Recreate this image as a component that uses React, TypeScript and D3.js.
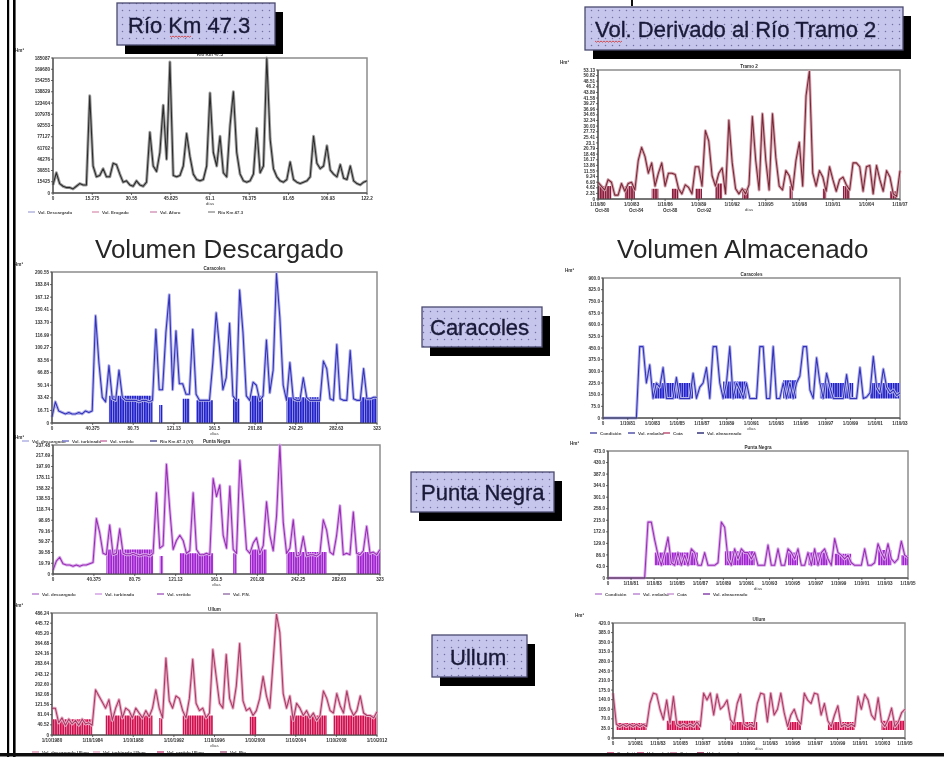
import React from 'react';
import * as d3 from 'd3';

const W = 944;
const H = 757;
const FONT = "'Liberation Sans', Arial, Helvetica, sans-serif";

// ---------------- DATA ----------------
// Río Km 47.3 (caudal)
const rioMain = [6,15,7,5,4,4,3,5,7,6, 6,72,20,12,13,18,12,12,22,21, 14,8,9,6,5,9,6,5,8,45, 20,16,30,65,25,97,13,12,13,20, 44,27,14,10,9,10,20,74,30,20, 42,15,12,50,75,30,14,9,8,9, 14,48,15,20,100,40,18,12,9,8, 10,23,10,8,7,8,9,12,42,22, 18,20,35,17,14,12,21,11,10,20, 9,7,6,8,9];
const rioYTicks = ['0','15425','30851','46276','61702','77127','92553','107978','123404','138829','154255','169680','185087'];
const rioXTicks = ['0','15.275','30.55','45.825','61.1','76.375','91.65','106.93','122.2'];
const rioLegend = ['Vol. Descargado','Vol. Erogado','Vol. Aforo','Río Km 47.3'];

// Vol. Derivado al Río Tramo 2
const derivMain = [13,10,7,15,13,3,3,12,6,12, 13,7,30,40,33,20,28,10,20,28, 10,20,20,19,8,4,11,9,4,25, 25,10,53,45,18,10,20,24,4,61, 28,8,4,8,4,11,64,30,7,66, 30,7,66,32,10,7,22,18,7,30, 44,10,80,99,20,10,22,17,6,25, 15,6,15,17,11,7,28,28,25,6, 25,26,4,26,15,6,22,17,4,2, 22];
const derivDense = [10,10,10,10,10,0,0,0,10,10, 10,10,0,0,0,0,8,8,8,0, 0,0,8,8,8,0,0,0,0,8, 8,8,0,0,0,12,12,12,0,0, 0,0,0,8,8,8,0,0,0,0, 0,0,0,0,0,0,0,10,10,0, 0,0,0,0,0,0,0,8,8,0, 8,0,0,10,10,10,0,0,0,0, 0,0,6,0,6,0,0,6,6,6, 0];
const derivYTicks = ['0','2.31','4.62','6.93','9.24','11.55','13.86','16.17','18.48','20.79','23.1','25.41','27.72','30.03','32.34','34.65','36.96','39.27','41.58','43.89','46.2','48.51','50.82','53.13'];
const derivXTicks = ['1/10/80','1/10/83','1/10/86','1/10/89','1/10/92','1/10/95','1/10/98','1/10/01','1/10/04','1/10/07'];
const derivXTicks2 = ['Oct-80','Oct-84','Oct-88','Oct-92'];

// Caracoles – volumen descargado
const caracDescMain = [4,14,8,7,6,7,6,6,7,6, 8,7,8,71,40,17,14,38,16,15, 35,17,15,15,15,15,14,15,15,14, 15,62,22,22,60,85,22,61,26,26, 19,19,62,19,15,15,15,15,40,73, 50,22,30,66,18,15,88,60,18,15, 27,25,15,18,55,20,35,99,70,25, 15,40,16,15,15,30,17,15,15,15, 15,41,36,16,15,52,16,15,15,48, 16,15,15,36,16,16,17,17];
const caracDescDense = [0,0,0,0,0,0,0,0,0,0, 0,0,0,0,0,0,0,18,18,18, 18,18,18,18,18,18,18,18,18,18, 18,0,12,12,0,0,0,0,0,16, 16,16,0,15,15,15,15,15,15,0, 0,0,0,0,16,16,16,0,0,18, 18,18,18,18,0,0,0,0,0,0, 17,17,17,17,17,17,17,17,17,17, 17,0,0,0,0,0,0,0,0,0, 0,0,17,17,17,17,17,17];
const caracDescYTicks = ['0','16.71','33.42','50.14','66.85','83.56','100.27','116.99','133.70','150.41','167.12','183.84','200.55'];
const caracDescXTicks = ['0','40.375','80.75','121.13','161.5','201.88','242.25','282.63','323'];
const caracDescLegend = ['Vol. descargado','Vol. turbinado','Vol. vertido','Río Km 47.3 (VI)'];

// Caracoles – volumen almacenado
const caracAlmMain = [0,0,0,0,0,0,0,0,0,0, 0,51,51,25,38,14,25,22,36,14, 14,14,29,14,14,14,14,32,14,22, 25,36,14,51,51,25,14,25,51,14, 25,20,14,25,14,14,14,51,51,14, 14,51,14,14,25,14,25,14,25,30, 51,51,20,14,43,25,14,32,22,14, 14,14,14,31,14,14,14,36,14,15, 18,44,22,18,35,22,18,20,16,18];
const caracAlmDense = [0,0,0,0,0,0,0,0,0,0, 0,0,0,0,0,25,25,25,25,25, 25,25,25,25,25,25,25,25,0,0, 0,0,0,0,0,0,26,26,26,26, 26,26,26,26,0,0,0,0,0,0, 0,0,0,0,27,27,27,27,27,0, 0,0,0,0,0,25,25,25,25,25, 25,25,25,25,25,25,0,0,0,0, 25,25,25,25,25,25,25,25,25,25];
const caracAlmYTicks = ['0','75.0','150.0','225.0','300.0','375.0','450.0','525.0','600.0','675.0','750.0','825.0','900.0'];
const caracAlmXTicks = ['0','1/10/81','1/10/83','1/10/85','1/10/87','1/10/89','1/10/91','1/10/93','1/10/95','1/10/97','1/10/99','1/10/01','1/10/03'];
const caracAlmLegend = ['Condición','Vol. embalse','Cota','Vol. almacenado'];

// Punta Negra – volumen descargado
const puntaDescMain = [3,10,13,8,7,7,6,7,6,7, 7,8,9,43,32,16,15,38,15,16, 35,16,15,15,16,15,14,15,15,14, 16,63,20,22,85,50,19,26,30,26, 16,18,63,19,15,15,16,15,74,60, 69,30,20,68,19,16,88,55,19,16, 24,28,16,22,56,30,18,45,100,40, 16,20,42,14,15,29,14,15,15,14, 16,42,34,17,15,30,53,15,16,15, 48,16,15,18,37,16,17,15,19];
const puntaDescDense = [0,0,0,0,0,0,0,0,0,0, 0,0,0,0,0,0,19,19,19,19, 19,19,19,19,19,19,19,19,19,19, 19,0,14,14,0,0,0,0,16,16, 16,16,16,16,16,16,16,16,16,0, 0,0,0,0,16,16,0,0,0,19, 19,19,19,19,19,0,0,0,0,0, 17,17,17,17,17,17,17,17,17,17, 17,17,17,0,0,0,0,0,0,0, 0,17,17,17,17,17,17,17,17];
const puntaDescYTicks = ['0','19.79','39.58','59.37','79.16','98.95','118.74','138.53','158.32','178.11','197.90','217.69','237.48'];
const puntaDescXTicks = ['0','40.375','80.75','121.13','161.5','201.88','242.25','282.63','323'];
const puntaDescLegend = ['Vol. descargado','Vol. turbinado','Vol. vertido','Vol. P.N.'];

// Punta Negra – volumen almacenado
const puntaAlmMain = [0,0,0,0,0,0,0,0,0,0, 0,0,44,44,30,18,10,20,32,12, 10,20,10,18,10,23,20,10,10,20, 10,10,10,12,44,40,15,10,23,15, 23,20,20,15,20,10,10,10,26,10, 10,23,10,10,23,20,15,23,10,10, 20,10,23,10,20,23,15,10,31,20, 18,15,18,12,10,10,10,23,10,10, 12,27,20,15,27,15,12,15,29,18, 16];
const puntaAlmDense = [0,0,0,0,0,0,0,0,0,0, 0,0,0,0,20,20,20,20,20,20, 20,20,20,20,20,20,20,20,0,0, 0,0,0,0,0,21,21,21,21,21, 21,21,21,21,21,0,0,0,0,0, 0,0,0,0,20,20,20,20,0,0, 20,20,20,20,20,20,20,0,19,19, 19,19,19,19,0,0,0,0,0,0, 0,22,22,22,22,22,0,0,18,18, 18];
const puntaAlmYTicks = ['0','43.0','86.0','129.0','172.0','215.0','258.0','301.0','344.0','387.0','430.0','473.0'];
const puntaAlmXTicks = ['0','1/10/81','1/10/83','1/10/85','1/10/87','1/10/89','1/10/91','1/10/93','1/10/95','1/10/97','1/10/99','1/10/01','1/10/03','1/10/05'];
const puntaAlmLegend = ['Condición','Vol. embalse','Cota','Vol. almacenado'];

// Ullum – volumen descargado
const ullumDescMain = [22,22,10,14,8,13,9,12,8,13, 9,10,8,37,32,27,22,29,12,22, 29,14,22,20,14,22,18,14,20,15, 22,37,22,14,63,28,22,32,30,20, 14,30,62,26,20,22,14,18,70,48, 26,22,66,30,22,40,75,28,20,22, 16,20,30,48,32,22,60,99,84,34, 22,32,12,26,22,16,20,14,18,12, 16,36,30,20,18,34,24,18,36,22, 16,20,32,18,16,16,14,19];
const ullumDescDense = [13,13,13,13,13,13,13,13,13,13, 13,13,13,0,0,0,16,16,16,16, 16,16,16,16,16,16,16,16,16,16, 16,0,14,14,0,0,0,0,0,16, 16,16,16,16,16,16,16,16,16,0, 0,0,0,0,0,0,0,0,0,15, 15,15,0,0,0,0,0,0,0,0, 0,16,16,16,16,16,16,16,16,16, 16,16,16,0,16,16,16,16,16,16, 16,16,16,16,16,16,16,16];
const ullumDescYTicks = ['0','40.52','81.04','121.56','162.08','202.60','243.12','283.64','324.16','364.68','405.20','445.72','486.24'];
const ullumDescXTicks = ['1/10/1980','1/10/1984','1/10/1988','1/10/1992','1/10/1996','1/10/2000','1/10/2004','1/10/2008','1/10/2012'];
const ullumDescLegend = ['Vol. descargado Ullum','Vol. turbinado Ullum','Vol. vertido Ullum','Vol. Río'];

// Ullum – volumen almacenado
const ullumAlmMain = [39,12,10,12,10,12,10,12,10,12, 10,30,39,38,25,16,33,13,36,12, 10,12,10,12,10,14,10,39,33,39, 20,38,25,28,33,16,12,30,38,12, 10,12,10,30,39,38,14,39,20,25, 39,22,10,20,25,16,12,39,33,30, 39,38,20,30,15,10,20,28,10,12, 10,12,10,36,25,38,33,20,16,35, 14,10,16,26,10,14,22,25];
const ullumAlmDense = [0,13,13,13,13,13,13,13,13,13, 13,0,0,0,0,0,15,15,15,15, 15,15,15,15,15,15,15,0,0,0, 0,0,0,0,0,14,14,14,14,14, 14,14,14,14,0,0,0,0,0,0, 0,0,14,14,14,14,14,0,0,0, 0,0,0,0,14,14,14,14,14,14, 14,14,14,0,0,0,0,0,0,0, 15,15,15,15,15,15,15,15];
const ullumAlmYTicks = ['0','35.0','70.0','105.0','140.0','175.0','210.0','245.0','280.0','315.0','350.0','385.0','420.0'];
const ullumAlmXTicks = ['0','1/10/81','1/10/83','1/10/85','1/10/87','1/10/89','1/10/91','1/10/93','1/10/95','1/10/97','1/10/99','1/10/01','1/10/03','1/10/05'];
const ullumAlmLegend = ['Condición','Vol. embalse','Cota','Vol. almacenado'];

// ---------------- CHART ----------------
type Spec = {
  id: string;
  x: number; y: number; w: number; h: number;
  main: number[];
  dense?: number[];
  denseBase: number;
  dark: string; light: string; denseColor: string;
  yTicks: string[]; xTicks: string[]; xTicks2?: string[];
  legend?: string[]; legendY?: number; legendXs?: number[]; legendColors?: string[];
  title: string; unit: string;
};

function Chart({ s }: { s: Spec }) {
  const n = s.main.length;
  const xs = d3.scaleLinear().domain([0, n - 1]).range([s.x, s.x + s.w]);
  const ys = d3.scaleLinear().domain([0, 100]).range([s.y + s.h, s.y]);
  const line = d3.line<number>().x((_, i) => xs(i)).y((d) => ys(d));
  const area = d3
    .area<number>()
    .defined((d) => d > 0)
    .x((_, i) => xs(i))
    .y0(ys(s.denseBase))
    .y1((d) => ys(d))
    .curve(d3.curveStep);
  const yt = d3.scaleLinear().domain([0, s.yTicks.length - 1]).range([s.y + s.h, s.y]);
  const xt = d3.scaleLinear().domain([0, s.xTicks.length - 1]).range([s.x, s.x + s.w]);
  const pid = `pat-${s.id}`;
  return (
    <g>
      <defs>
        <pattern id={pid} patternUnits="userSpaceOnUse" width="2.4" height="4">
          <rect width="2.4" height="4" fill={s.light} />
          <rect width="1.7" height="4" fill={s.denseColor} />
        </pattern>
      </defs>
      <rect x={s.x} y={s.y} width={s.w} height={s.h} fill="#fff" stroke="#8c8c8c" strokeWidth={1.5} />
      {s.dense && <path d={area(s.dense) || ''} fill={`url(#${pid})`} />}
      <path d={line(s.main) || ''} fill="none" stroke={s.light} strokeWidth={3} strokeLinejoin="round" />
      <path d={line(s.main) || ''} fill="none" stroke={s.dark} strokeWidth={1.05} strokeLinejoin="round" />
      {/* axes */}
      <line x1={s.x} y1={s.y} x2={s.x} y2={s.y + s.h} stroke="#444" strokeWidth={1} />
      <line x1={s.x} y1={s.y + s.h} x2={s.x + s.w} y2={s.y + s.h} stroke="#444" strokeWidth={1} />
      {s.yTicks.map((t, i) => (
        <g key={'y' + i}>
          <line x1={s.x - 2} x2={s.x} y1={yt(i)} y2={yt(i)} stroke="#444" strokeWidth={0.8} />
          <text x={s.x - 3} y={yt(i) + 1.6} fontSize={4.6} textAnchor="end" fill="#333" fontFamily={FONT} fontWeight="bold">{t}</text>
        </g>
      ))}
      {s.xTicks.map((t, i) => (
        <g key={'x' + i}>
          <line x1={xt(i)} x2={xt(i)} y1={s.y + s.h} y2={s.y + s.h + 2} stroke="#444" strokeWidth={0.8} />
          <text x={xt(i)} y={s.y + s.h + 7} fontSize={4.6} textAnchor="middle" fill="#333" fontFamily={FONT} fontWeight="bold">{t}</text>
        </g>
      ))}
      {s.xTicks2 && s.xTicks2.map((t, i) => (
        <text key={'x2' + i} x={s.x - 3 + i * 34} y={s.y + s.h + 13} fontSize={4.6} fill="#333" fontFamily={FONT} fontWeight="bold">{t}</text>
      ))}
      <text x={s.x + s.w / 2} y={s.y + s.h + 12} fontSize={4.4} textAnchor="middle" fill="#444" fontFamily={FONT}>días</text>
      <text x={s.x + s.w / 2} y={s.y - 2.5} fontSize={4.6} textAnchor="middle" fill="#333" fontFamily={FONT} fontWeight="bold">{s.title}</text>
      <text x={s.x - 38} y={s.y - 6} fontSize={4.6} fill="#333" fontFamily={FONT} fontWeight="bold">{s.unit}</text>
      {s.legend && s.legendXs && s.legend.map((t, i) => (
        <g key={'l' + i}>
          <line x1={s.legendXs![i]} x2={s.legendXs![i] + 7} y1={s.legendY!} y2={s.legendY!} stroke={s.legendColors ? s.legendColors[i] : s.dark} strokeWidth={1.6} />
          <text x={s.legendXs![i] + 10} y={s.legendY! + 1.6} fontSize={4.4} fill="#444" fontFamily={FONT} fontWeight="bold">{t}</text>
        </g>
      ))}
    </g>
  );
}

function LabelBox({ x, y, w, h, text, tx, ty, squiggle }: { x: number; y: number; w: number; h: number; text: string; tx: number; ty: number; squiggle?: [number, number, number] }) {
  let sq = '';
  if (squiggle) {
    const [sx, sy, len] = squiggle;
    const pts: [number, number][] = [];
    for (let i = 0; i <= len; i += 1.5) pts.push([sx + i, sy + ((i / 1.5) % 2 === 0 ? 0 : 1.2)]);
    sq = d3.line()(pts) || '';
  }
  return (
    <g>
      <rect x={x + 8} y={y + 9} width={w} height={h} fill="#050505" />
      <rect x={x} y={y} width={w} height={h} fill="url(#dots)" stroke="#4a4a70" strokeWidth={1.3} />
      <text x={tx} y={ty} fontSize={22} fill="#1a1a38" stroke="#1a1a38" strokeWidth={0.35} fontFamily={FONT}>{text}</text>
      {squiggle && <path d={sq} fill="none" stroke="#d03030" strokeWidth={0.8} />}
    </g>
  );
}

export default function App() {
  const blue = { dark: '#3030bc', light: '#b4b4e8', denseColor: '#2020cc' };
  const purple = { dark: '#9a2cb6', light: '#dab0ea', denseColor: '#a020d0' };
  const red = { dark: '#a83a66', light: '#eab0c6', denseColor: '#d4104e' };
  const specs: Spec[] = [
    { id: 'rio', x: 53, y: 58, w: 314, h: 135, main: rioMain, denseBase: 0, dark: '#2a2a2a', light: '#a0a0a0', denseColor: '#000',
      yTicks: rioYTicks, xTicks: rioXTicks, legend: rioLegend, legendY: 212, legendXs: [28, 92, 150, 208],
      legendColors: ['#b8b8e0', '#e0a8c0', '#d8a0c0', '#a0a0a0'], title: 'Río Km 47.3', unit: 'Hm³' },
    { id: 'deriv', x: 598, y: 70, w: 302, h: 129, main: derivMain, dense: derivDense, denseBase: 0, dark: '#7a2636', light: '#d4a6b0', denseColor: '#8c1e3e',
      yTicks: derivYTicks, xTicks: derivXTicks, xTicks2: derivXTicks2, title: 'Tramo 2', unit: 'Hm³' },
    { id: 'cdesc', x: 52, y: 272, w: 325, h: 151, main: caracDescMain, dense: caracDescDense, denseBase: 0, ...blue,
      yTicks: caracDescYTicks, xTicks: caracDescXTicks, legend: caracDescLegend, legendY: 441, legendXs: [22, 62, 100, 150],
      legendColors: ['#b6b6e8', '#8080d0', '#d080b0', '#6060a0'], title: 'Caracoles', unit: 'Hm³' },
    { id: 'calm', x: 603, y: 278, w: 297, h: 140, main: caracAlmMain, dense: caracAlmDense, denseBase: 14, ...blue,
      yTicks: caracAlmYTicks, xTicks: caracAlmXTicks, legend: caracAlmLegend, legendY: 433, legendXs: [590, 628, 663, 697],
      legendColors: ['#6060b0', '#6060b0', '#c06080', '#404080'], title: 'Caracoles', unit: 'Hm³' },
    { id: 'pdesc', x: 53, y: 445, w: 327, h: 129, main: puntaDescMain, dense: puntaDescDense, denseBase: 0, ...purple,
      yTicks: puntaDescYTicks, xTicks: puntaDescXTicks, legend: puntaDescLegend, legendY: 594, legendXs: [32, 95, 157, 223],
      legendColors: ['#c090d8', '#d8a8e8', '#b070c8', '#a080b0'], title: 'Punta Negra', unit: 'Hm³' },
    { id: 'palm', x: 608, y: 451, w: 300, h: 127, main: puntaAlmMain, dense: puntaAlmDense, denseBase: 10, ...purple,
      yTicks: puntaAlmYTicks, xTicks: puntaAlmXTicks, legend: puntaAlmLegend, legendY: 594, legendXs: [595, 633, 667, 703],
      legendColors: ['#c090d8', '#c090d8', '#d0a0d8', '#9050b0'], title: 'Punta Negra', unit: 'Hm³' },
    { id: 'udesc', x: 52, y: 613, w: 325, h: 122, main: ullumDescMain, dense: ullumDescDense, denseBase: 0, ...red,
      yTicks: ullumDescYTicks, xTicks: ullumDescXTicks, legend: ullumDescLegend, legendY: 752, legendXs: [32, 93, 157, 220],
      legendColors: ['#e0a0b8', '#e8b0c8', '#d06090', '#b07090'], title: 'Ullum', unit: 'Hm³' },
    { id: 'ualm', x: 613, y: 623, w: 292, h: 115, main: ullumAlmMain, dense: ullumAlmDense, denseBase: 7, ...red,
      yTicks: ullumAlmYTicks, xTicks: ullumAlmXTicks, legend: ullumAlmLegend, legendY: 753, legendXs: [607, 637, 670, 697],
      legendColors: ['#d05080', '#d05080', '#d080a0', '#a03060'], title: 'Ullum', unit: 'Hm³' },
  ];
  return (
    <svg width={W} height={H} viewBox={`0 0 ${W} ${H}`} style={{ position: 'fixed', left: 0, top: 0, background: '#fff' }}>
      <defs>
        <pattern id="dots" patternUnits="userSpaceOnUse" width="7" height="7">
          <rect width="7" height="7" fill="#c6c6ec" />
          <circle cx="3.5" cy="3.5" r="0.75" fill="#7070a4" />
        </pattern>
        <filter id="soft" x="-0.01" y="-0.01" width="1.02" height="1.02">
          <feGaussianBlur stdDeviation="0.55" />
        </filter>
      </defs>
      <rect width={W} height={H} fill="#fff" />
      <g filter="url(#soft)">
        {specs.map((s) => (
          <Chart key={s.id} s={s} />
        ))}
        <text x={95} y={258} fontSize={26} fill="#262626" fontFamily={FONT}>Volumen Descargado</text>
        <text x={617} y={258} fontSize={26} fill="#262626" fontFamily={FONT}>Volumen Almacenado</text>
        <line x1={632} y1={0} x2={632} y2={6} stroke="#111" strokeWidth={2} />
        <LabelBox x={117} y={3} w={158} h={42} text="Río Km 47.3" tx={128} ty={33} squiggle={[170, 36, 22]} />
        <LabelBox x={585} y={7} w={318} h={43} text="Vol. Derivado al Río Tramo 2" tx={595} ty={37} squiggle={[595, 41, 27]} />
        <LabelBox x={422} y={307} w={120} h={40} text="Caracoles" tx={430} ty={335} />
        <LabelBox x={411} y={472} w={143} h={40} text="Punta Negra" tx={421} ty={500} />
        <LabelBox x={432} y={635} w={95} h={42} text="Ullum" tx={450} ty={665} />
        {/* slide frame */}
        <rect x={7} y={0} width={2.2} height={H} fill="#000" />
        <rect x={13} y={0} width={2.6} height={H} fill="#000" />
        <rect x={0} y={753} width={W} height={3.5} fill="#111" />
      </g>
    </svg>
  );
}
